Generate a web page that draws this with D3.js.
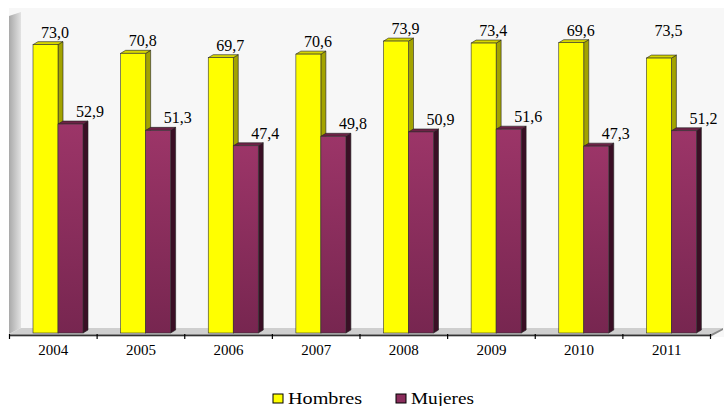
<!DOCTYPE html>
<html><head><meta charset="utf-8">
<script src="https://cdn.jsdelivr.net/npm/d3@7"></script>
<style>html,body{margin:0;padding:0;background:#fff}svg{display:block}</style>
</head><body>
<svg id="c" width="724" height="406"></svg>
<script>
const years = ["2004","2005","2006","2007","2008","2009","2010","2011"];
const hombres = [73.0,70.8,69.7,70.6,73.9,73.4,73.5,69.6];
const mujeres = [52.9,51.3,47.4,49.8,50.9,51.6,47.3,51.2];
const hombresLabels = [73.0,70.8,69.7,70.6,73.9,73.4,69.6,73.5];
const mujeresLabels = [52.9,51.3,47.4,49.8,50.9,51.6,47.3,51.2];
const seriesNames = ["Hombres","Mujeres"];

const FONT = '"Liberation Serif", "Times New Roman", serif';
const svg = d3.select("#c");
const W = 724, H = 406;
const baseY = 333, topY = 17;
const x0 = d3.scaleBand().domain(years).range([9.5, 710.5]);
const x1 = d3.scaleBand().domain(seriesNames).range([23.5, 73.5]);
const y = d3.scaleLinear().domain([0, 80]).range([baseY, topY]);
const dx = 5, dy = 3;
const fmt = v => d3.format(".1f")(v).replace(".", ",");

const defs = svg.append("defs");
const gW = defs.append("linearGradient").attr("id","wall").attr("x1","0").attr("x2","1").attr("y1","0").attr("y2","0");
gW.append("stop").attr("offset","0").attr("stop-color","#a9a9a9");
gW.append("stop").attr("offset","1").attr("stop-color","#e2e2e2");
const gP = defs.append("linearGradient").attr("id","purp").attr("x1","0").attr("x2","0").attr("y1","0").attr("y2","1");
gP.append("stop").attr("offset","0").attr("stop-color","#9c3568");
gP.append("stop").attr("offset","1").attr("stop-color","#772650");

// background
svg.append("rect").attr("x",9).attr("y",8).attr("width",W-9).attr("height",329).attr("fill","#f7f7f7");
// left wall
svg.append("polygon").attr("points",[[9,334],[9,16],[21,12],[21,328]].join(" ")).attr("fill","url(#wall)");
// floor
svg.append("polygon").attr("points",[[9,334],[21,328],[723,328],[711,334]].join(" ")).attr("fill","#cfcfcf");
svg.append("polygon").attr("points",[[9,334],[711,334],[723,328],[723,330],[711,336.5],[9,336.5]].join(" ")).attr("fill","#8a8a8a");
svg.append("line").attr("x1",9).attr("x2",711).attr("y1",335.5).attr("y2",335.5).attr("stroke","#333").attr("stroke-width",1);

// ticks
const tickX = years.map(d => x0(d)).concat([x0.range()[1]]);
svg.selectAll(".tk").data(tickX).enter().append("line")
  .attr("x1",d=>d).attr("x2",d=>d).attr("y1",334).attr("y2",339)
  .attr("stroke","#000").attr("stroke-width",1.2);

// year labels
svg.selectAll(".yl").data(years).enter().append("text")
  .attr("x",d=>x0(d)+x0.bandwidth()/2).attr("y",355)
  .attr("text-anchor","middle")
  .style("font-family",FONT).style("font-size","15px").attr("fill","#000").text(d=>d);

const styles = {
  Hombres:{front:"#ffff00", topc:"#d6d600", side:"#a3a300", lab:22},
  Mujeres:{front:"url(#purp)", topc:"#6d2246", side:"#3a0f25", lab:32}
};

function bar3d(g, xL, v, st){
  const w = x1.bandwidth();
  const yt = y(v), yb = y(0);
  g.append("polygon").attr("points",[[xL+w,yt],[xL+w+dx,yt-dy],[xL+w+dx,yb-dy],[xL+w,yb]].join(" "))
    .attr("fill",st.side).attr("stroke","#222").attr("stroke-width",0.6);
  g.append("polygon").attr("points",[[xL,yt],[xL+dx,yt-dy],[xL+w+dx,yt-dy],[xL+w,yt]].join(" "))
    .attr("fill",st.topc).attr("stroke","#222").attr("stroke-width",0.6);
  g.append("rect").attr("x",xL).attr("y",yt).attr("width",w).attr("height",yb-yt)
    .attr("fill",st.front).attr("stroke","#333").attr("stroke-width",0.6);
}

const data = years.map((yr,i)=>({yr, vals:[hombres[i], mujeres[i]], labs:[hombresLabels[i], mujeresLabels[i]]}));
data.forEach(d=>{
  const g = svg.append("g");
  seriesNames.forEach((s,k)=>{
    bar3d(g, x0(d.yr)+x1(s), d.vals[k], styles[s]);
  });
});
data.forEach(d=>{
  seriesNames.forEach((s,k)=>{
    const v = Math.max(d.vals[k], d.labs[k]);
    svg.append("text").attr("x", x0(d.yr)+x1(s)+styles[s].lab).attr("y", y(v)-7)
      .attr("text-anchor","middle")
      .style("font-family",FONT).style("font-size","16px").attr("fill","#000").text(fmt(d.labs[k]));
  });
});

// legend
const lg = svg.append("g");
const legX = [273, 396];
seriesNames.forEach((s,k)=>{
  lg.append("rect").attr("x",legX[k]).attr("y",394).attr("width",10).attr("height",9)
    .attr("fill", k===0 ? "#ffff00" : "#8a2d5c").attr("stroke","#000").attr("stroke-width",1);
  lg.append("text").attr("x",legX[k]+15).attr("y",403.5)
    .style("font-family",FONT).style("font-size","17.5px")
    .attr("textLength", k===0 ? 74 : 63).attr("lengthAdjust","spacingAndGlyphs")
    .attr("fill","#000").text(s);
});
</script>
</body></html>
